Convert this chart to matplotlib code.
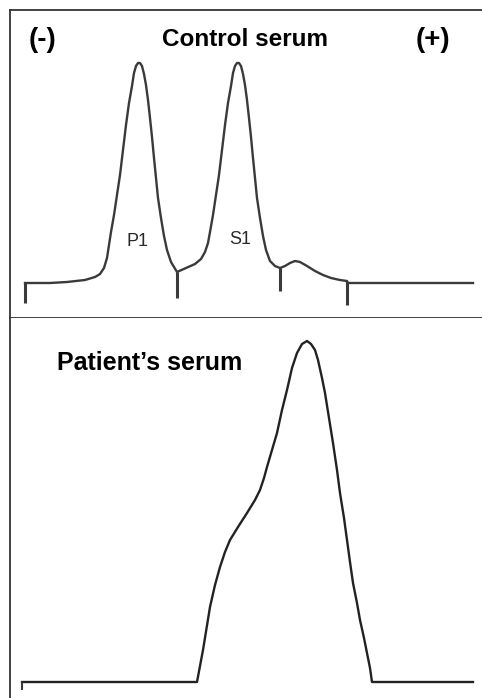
import numpy as np
import matplotlib
matplotlib.use('Agg')
import matplotlib.pyplot as plt

plt.rcParams['font.family'] = ['Liberation Sans', 'DejaVu Sans']

# control serum densitometry trace (position, height above baseline)
ctrl_pos = [25, 50, 67, 85, 95, 100, 104, 107, 109, 111, 114, 117, 120, 123, 126, 129, 132, 134,
            136, 138, 140, 142, 144, 146, 148, 150, 152, 154, 156, 158, 161, 164, 167, 171, 177,
            186, 195, 201, 205, 208, 210, 213, 216, 219, 222, 225, 228, 231, 233, 235, 237, 239,
            241, 243, 245, 247, 249, 251, 253, 255, 257, 260, 263, 266, 270, 275, 280,
            285, 290, 295, 300, 307, 315, 323, 331, 340, 347, 347, 473]
ctrl_h = [0, 0, 1, 3, 6, 9, 15, 25, 38, 51, 68, 88, 108, 133, 158, 180, 197, 210,
          217, 220, 220, 217, 209, 198, 183, 165, 146, 125, 105, 85, 65, 47, 33, 21, 11,
          15, 19, 24, 31, 40, 51, 68, 88, 108, 133, 158, 180, 197, 210, 217, 220, 220,
          217, 209, 198, 183, 165, 146, 125, 105, 85, 65, 47, 33, 22, 17, 15,
          17, 20, 22, 21, 17, 12, 8, 5, 3, 2, 0, 0]
# fraction cut marks: position, top, bottom
cut_pos = [25, 177, 280, 347]
cut_top = [0, 11, 15, 2]
cut_bot = [-20, -15, -8, -22]
peak_names = ['P1', 'S1']
peak_label_pos = [137, 240]
peak_label_h = [41, 43]

# patient serum trace
pat_pos = [22, 197, 203, 210, 215, 220, 225, 230, 238, 247, 255, 260, 264, 267, 272, 277, 282,
           287, 292, 297, 302, 307, 311, 315, 318, 322, 325, 329, 333, 337, 340, 344, 347, 350,
           353, 357, 360, 364, 367, 370, 372, 473]
pat_h = [0, 0, 32, 75, 97, 115, 130, 142, 155, 169, 182, 192, 204, 215, 232, 249, 272,
         292, 314, 329, 338, 341, 338, 332, 322, 304, 289, 264, 239, 212, 189, 164, 142, 120,
         99, 79, 62, 44, 29, 14, 0, 0]

W, H = 482, 698
fig = plt.figure(figsize=(W / 100, H / 100), dpi=100)
lc = '#3a3a3a'
fc = '#333333'

# top panel: pixels 10..482 x, 10..318 y ; baseline at y=283
ax1 = fig.add_axes([10 / W, (H - 318) / H, 472 / W, 308 / H])
ax1.set_xlim(10, 482)
ax1.set_ylim(283 - 318, 283 - 10)
ax1.plot(ctrl_pos, ctrl_h, color=lc, lw=1.7, solid_joinstyle='round')
ax1.vlines(cut_pos, cut_bot, cut_top, color=lc, lw=2.2)
for name, px, ph in zip(peak_names, peak_label_pos, peak_label_h):
    ax1.text(px, ph, name, ha='center', va='center', fontsize=13, color='#2a2a2a')
ax1.text(42, 243, '(-)', ha='center', va='center', fontsize=20, fontweight='bold')
ax1.text(245, 243, 'Control serum', ha='center', va='center', fontsize=17.5, fontweight='bold')
ax1.text(433, 243, '(+)', ha='center', va='center', fontsize=20, fontweight='bold')

# bottom panel: pixels 10..482 x, 318..698 y ; baseline at y=682
ax2 = fig.add_axes([10 / W, 0, 472 / W, 380 / H])
ax2.set_xlim(10, 482)
ax2.set_ylim(682 - 698, 682 - 318)
ax2.plot(pat_pos, pat_h, color='#222222', lw=1.7, solid_joinstyle='round')
ax2.vlines([22], [-8], [0], color=lc, lw=1.5)
ax2.text(57, 682 - 363, 'Patient\u2019s serum', ha='left', va='center', fontsize=18,
         fontweight='bold')

for ax in (ax1, ax2):
    ax.set_xticks([])
    ax.set_yticks([])
    ax.spines['right'].set_visible(False)
    for s in ('left', 'top', 'bottom'):
        ax.spines[s].set_color(fc)
        ax.spines[s].set_linewidth(1.3)
ax2.spines['bottom'].set_visible(False)
ax2.spines['top'].set_visible(False)

fig.savefig('out.png', dpi=100)
